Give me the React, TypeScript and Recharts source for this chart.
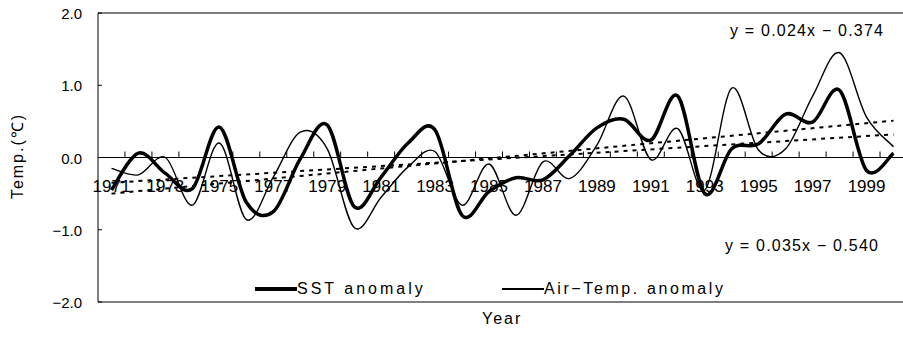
import React from "react";
import { LineChart, Line, XAxis, YAxis, ReferenceLine, Legend } from "recharts";

// yearly anomalies
const years = [
  1971, 1972, 1973, 1974, 1975, 1976, 1977, 1978, 1979, 1980,
  1981, 1982, 1983, 1984, 1985, 1986, 1987, 1988, 1989, 1990,
  1991, 1992, 1993, 1994, 1995, 1996, 1997, 1998, 1999, 2000,
];
const sstAnomaly = [
  -0.45, 0.06, -0.22, -0.43, 0.42, -0.62, -0.75, -0.02, 0.45, -0.68,
  -0.27, 0.2, 0.38, -0.8, -0.47, -0.28, -0.31, 0.03, 0.41, 0.53,
  0.24, 0.85, -0.5, 0.12, 0.19, 0.6, 0.49, 0.93, -0.18, 0.06,
];
const airTempAnomaly = [
  -0.15, -0.24, 0.0, -0.66, 0.2, -0.86, -0.27, 0.35, 0.12, -0.97,
  -0.55, -0.13, 0.08, -0.66, -0.09, -0.8, -0.06, -0.29, 0.17, 0.85,
  -0.03, 0.4, -0.45, 0.96, 0.1, 0.12, 0.85, 1.45, 0.56, 0.15,
];
// trend lines: end values at first and last year
const trendYears = [1971, 2000];
const sstTrend = [-0.35, 0.32];
const airTrend = [-0.5, 0.51];

const yTicks = [-2, -1, 0, 1, 2];
const yearLabels = [1971, 1973, 1975, 1977, 1979, 1981, 1983, 1985, 1987, 1989, 1991, 1993, 1995, 1997, 1999];
const seriesNames = { sst: "SST anomaly", air: "Air\u2212Temp. anomaly" };
const equations = ["y = 0.024x \u2212 0.374", "y = 0.035x \u2212 0.540"];

const FONT = '"Liberation Sans", Arial, sans-serif';
const PLOT_TOP = 13;
const PLOT_H = 289;
const PLOT_LEFT = 98;
const YEAR_PX = 809 / 30;

const rows = years.map((year, i) => ({ year, sst: sstAnomaly[i], air: airTempAnomaly[i] }));
const sstTrendRows = trendYears.map((year, i) => ({ year, v: sstTrend[i] }));
const airTrendRows = trendYears.map((year, i) => ({ year, v: airTrend[i] }));

// Excel-like smoothed line (uniform Catmull-Rom through the points)
/* eslint-disable @typescript-eslint/no-explicit-any */
const smooth = (context: any) => {
  let pts: number[][] = [];
  return {
    areaStart() {},
    areaEnd() {},
    lineStart() {
      pts = [];
    },
    point(x: number, y: number) {
      pts.push([+x, +y]);
    },
    lineEnd() {
      const n = pts.length;
      if (!n) return;
      context.moveTo(pts[0][0], pts[0][1]);
      for (let i = 0; i < n - 1; i++) {
        const p0 = pts[Math.max(i - 1, 0)];
        const p1 = pts[i];
        const p2 = pts[i + 1];
        const p3 = pts[Math.min(i + 2, n - 1)];
        context.bezierCurveTo(
          p1[0] + (p2[0] - p0[0]) / 6,
          p1[1] + (p2[1] - p0[1]) / 6,
          p2[0] - (p3[0] - p1[0]) / 6,
          p2[1] - (p3[1] - p1[1]) / 6,
          p2[0],
          p2[1]
        );
      }
    },
  };
};

const YearTick = ({ x, payload }: any) => {
  const y0 = PLOT_TOP + PLOT_H / 2;
  const yr = payload.value;
  return (
    <g>
      <line x1={x + YEAR_PX / 2} x2={x + YEAR_PX / 2} y1={y0} y2={y0 - 6} stroke="#000" />
      {yearLabels.includes(yr) && (
        <text x={x} y={y0 + 34} textAnchor="middle" fontFamily={FONT} fontSize={17} fill="#000">
          {yr}
        </text>
      )}
    </g>
  );
};

const TempTick = ({ x, y, payload }: any) => {
  const v = payload.value as number;
  const txt = (v < 0 ? "\u2212" : "") + Math.abs(v).toFixed(1);
  return (
    <g>
      <line x1={PLOT_LEFT} x2={PLOT_LEFT + 4} y1={y} y2={y} stroke="#000" />
      <text x={x} y={y + 6} textAnchor="end" fontFamily={FONT} fontSize={15} fill="#000">
        {txt}
      </text>
    </g>
  );
};

const LEGEND_ORDER = ["sst", "air"];
const LEGEND_WIDTH: Record<string, number> = { sst: 4, air: 1.5 };
const LEGEND_SPACING: Record<string, number> = { sst: 3, air: 2.6 };

const renderLegend = ({ payload }: any) => {
  const items = (payload || [])
    .filter((e: any) => LEGEND_ORDER.includes(e.dataKey))
    .sort((a: any, b: any) => LEGEND_ORDER.indexOf(a.dataKey) - LEGEND_ORDER.indexOf(b.dataKey));
  return (
    <div style={{ display: "flex", alignItems: "center", fontFamily: FONT, fontSize: 16, color: "#000" }}>
      {items.map((entry: any) => (
        <div key={entry.dataKey} style={{ display: "flex", alignItems: "center", width: 247 }}>
          <div style={{ width: 42, height: LEGEND_WIDTH[entry.dataKey], background: "#000" }} />
          <span style={{ letterSpacing: LEGEND_SPACING[entry.dataKey], whiteSpace: "nowrap" }}>{entry.value}</span>
        </div>
      ))}
    </div>
  );
};
/* eslint-enable @typescript-eslint/no-explicit-any */

const textStyle: React.CSSProperties = {
  position: "absolute",
  fontFamily: FONT,
  fontSize: 16,
  lineHeight: "16px",
  color: "#000",
  whiteSpace: "nowrap",
};

export default function App() {
  return (
    <div style={{ position: "absolute", left: 0, top: 0, width: 903, height: 341, overflow: "hidden", background: "#fff" }}>
      <LineChart width={910} height={341} data={rows} margin={{ top: PLOT_TOP, right: 3, bottom: 9, left: 0 }}>
        <XAxis
          dataKey="year"
          type="number"
          domain={[1970.5, 2000.5]}
          ticks={years}
          interval={0}
          tick={<YearTick />}
          tickLine={false}
          axisLine={{ stroke: "#000" }}
          height={30}
        />
        <YAxis
          domain={[-2, 2]}
          ticks={yTicks}
          width={PLOT_LEFT}
          tickSize={0}
          tickMargin={16}
          tickLine={false}
          tick={<TempTick />}
          axisLine={{ stroke: "#000" }}
        />
        <ReferenceLine y={2} stroke="#000" />
        <ReferenceLine y={0} stroke="#000" />
        <Line
          data={sstTrendRows}
          dataKey="v"
          type="linear"
          stroke="#000"
          strokeWidth={2}
          strokeDasharray="4 5"
          dot={false}
          activeDot={false}
          legendType="none"
          isAnimationActive={false}
        />
        <Line
          data={airTrendRows}
          dataKey="v"
          type="linear"
          stroke="#000"
          strokeWidth={2}
          strokeDasharray="4 5"
          dot={false}
          activeDot={false}
          legendType="none"
          isAnimationActive={false}
        />
        <Line
          dataKey="air"
          name={seriesNames.air}
          type={smooth}
          stroke="#000"
          strokeWidth={1.4}
          dot={false}
          activeDot={false}
          isAnimationActive={false}
        />
        <Line
          dataKey="sst"
          name={seriesNames.sst}
          type={smooth}
          stroke="#000"
          strokeWidth={3.5}
          dot={false}
          activeDot={false}
          isAnimationActive={false}
        />
        <Legend
          layout="horizontal"
          verticalAlign="middle"
          align="center"
          content={renderLegend}
          wrapperStyle={{ left: 255, top: 280, width: 500, height: 18 }}
        />
      </LineChart>
      <div style={{ ...textStyle, left: 730, top: 23, letterSpacing: 1.2 }}>{equations[0]}</div>
      <div style={{ ...textStyle, left: 725, top: 238, letterSpacing: 1.2 }}>{equations[1]}</div>
      <div style={{ ...textStyle, left: 482, top: 311, letterSpacing: 2 }}>Year</div>
      <div
        style={{
          ...textStyle,
          left: 18,
          top: 156,
          letterSpacing: 2,
          transform: "translate(-50%, -50%) rotate(-90deg)",
        }}
      >
        Temp.(℃)
      </div>
    </div>
  );
}
